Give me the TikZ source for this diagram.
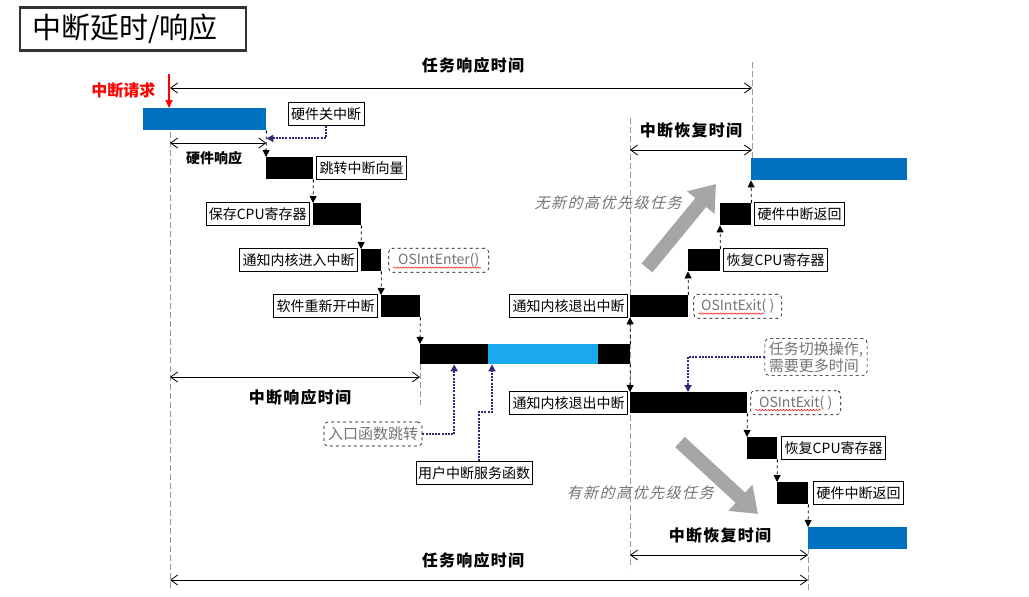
\documentclass[tikz,border=0pt]{standalone}
\usepackage{fontspec}
\setmainfont{Noto Sans CJK SC}
\newfontfamily\slantcjk[FakeSlant=0.25, LetterSpace=10]{Noto Sans CJK SC}
\newfontfamily\widecjk[LetterSpace=8]{Noto Sans CJK SC}
\usetikzlibrary{arrows.meta, positioning, decorations.pathmorphing}

\definecolor{barblue}{HTML}{0070C0}
\definecolor{isrblue}{HTML}{1AA9EC}
\definecolor{noteblue}{HTML}{2B2B7A}
\definecolor{guide}{HTML}{9A9A9A}
\definecolor{bigarrow}{HTML}{A6A6A6}

\begin{document}
\begin{tikzpicture}[x=1pt, y=-1pt,
  bar/.style={fill=black, minimum height=22pt, inner sep=0pt, anchor=north west},
  taskbar/.style={bar, fill=barblue},
  lbl/.style={draw, line width=0.6pt, fill=white, inner xsep=3pt, inner ysep=2pt,
    minimum height=23pt, font=\fontsize{14}{16}\selectfont},
  dbox/.style={draw, dashed, line width=0.6pt, rounded corners=4pt, text=black!55,
    inner xsep=4pt, minimum height=24pt, font=\fontsize{14}{16}\selectfont},
  flow/.style={dashed, line width=0.8pt, -{Triangle[length=7pt, width=7pt]}},
  note/.style={noteblue, line width=2pt, dash pattern=on 2pt off 1.2pt,
    -{Triangle[length=7pt, width=7pt]}},
  dim/.style={line width=0.8pt, {Straight Barb[length=7pt, width=10pt]}-{Straight Barb[length=7pt, width=10pt]}},
  guideline/.style={guide, line width=0.8pt, dash pattern=on 6pt off 3pt},
  dimlbl/.style={font=\fontsize{16}{18}\selectfont\widecjk\bfseries},
  fat/.style={bigarrow, line width=14pt, -{Triangle[length=24pt, width=34pt]}},
  wavy/.style={red, line width=0.5pt, decorate, decoration={snake, amplitude=0.7pt, segment length=3pt}}
]
\useasboundingbox (0,0) rectangle (1029,597);

% title
\node[draw=black!80, line width=2.5pt, text width=202pt, inner xsep=12pt, minimum height=43pt,
  align=left, font=\fontsize{29}{31}\selectfont] (title) at (133,29) {中断延时/响应};

% guide lines
\coordinate (g0) at (170,132);
\coordinate (g0b) at (170,590);
\coordinate (g1) at (420,364);
\coordinate (g1b) at (420,405);
\coordinate (g2) at (630,118);
\coordinate (g2b) at (630,568);
\coordinate (g3) at (752,62);
\coordinate (g3b) at (752,158);
\coordinate (g4) at (808,548);
\coordinate (g4b) at (808,592);
\draw[guideline] (g0) -- (g0b);
\draw[guideline] (g1) -- (g1b);
\draw[guideline] (g2) -- (g2b);
\draw[guideline] (g3) -- (g3b);
\draw[guideline] (g4) -- (g4b);

% interrupt request
\coordinate (req) at (169,74);
\node[red, font=\fontsize{16}{18}\selectfont\bfseries, anchor=east] (reqlbl) at (159,90) {中断请求};

% bars
\node[taskbar, minimum width=123pt] (b1) at (143,108) {};
\node[bar, minimum width=47pt] (b2) at (266,157) {};
\node[bar, minimum width=48pt] (b3) at (313,203) {};
\node[bar, minimum width=20pt] (b4) at (361,249) {};
\node[bar, minimum width=39pt] (b5) at (381,295) {};
\node[bar, minimum width=68pt, minimum height=20pt] (b6a) at (420,344) {};
\node[bar, fill=isrblue, minimum width=110pt, minimum height=20pt] (b6u) at (488,344) {};
\node[bar, minimum width=32pt, minimum height=20pt] (b6c) at (598,344) {};
\node[bar, minimum width=58pt] (b7) at (630,295) {};
\node[bar, minimum width=32pt] (b8) at (688,249) {};
\node[bar, minimum width=31pt] (b9) at (720,203) {};
\node[taskbar, minimum width=156pt] (b10) at (751,158) {};
\node[bar, minimum width=117pt, minimum height=21pt] (c1) at (630,392) {};
\node[bar, minimum width=30pt] (c2) at (747,437) {};
\node[bar, minimum width=31pt] (c3) at (777,482) {};
\node[taskbar, minimum width=99pt] (c4) at (808,527) {};

% labels
\node[lbl] (l1) at (326,114) {硬件关中断};
\node[lbl, right=3pt of b2] (l2) {跳转中断向量};
\node[lbl, left=3pt of b3] (l3) {保存CPU寄存器};
\node[lbl, left=3pt of b4] (l4) {通知内核进入中断};
\node[dbox, right=7pt of b4, minimum width=100pt] (e1) {OSIntEnter()};
\node[lbl, left=3pt of b5] (l5) {软件重新开中断};
\node[lbl, left=2pt of b7] (l7) {通知内核退出中断};
\node[dbox, right=5pt of b7, minimum width=88pt] (x1) {OSIntExit( )};
\node[lbl, right=3pt of b8] (l8) {恢复CPU寄存器};
\node[lbl, right=3pt of b9] (l9) {硬件中断返回};
\node[lbl, left=2pt of c1] (m1) {通知内核退出中断};
\node[dbox, right=3pt of c1, minimum width=90pt] (x2) {OSIntExit( )};
\node[lbl, right=4pt of c2] (m2) {恢复CPU寄存器};
\node[lbl, right=5pt of c3] (m3) {硬件中断返回};
\node[dbox, font=\fontsize{15}{17}\selectfont] (n1) at (373,434) {入口函数跳转};
\node[lbl, inner xsep=2pt] (n2) at (474,473) {用户中断服务函数};
\node[dbox, align=left, inner ysep=3pt, font=\fontsize{15}{17}\selectfont] (n3) at (816,357) {任务切换操作,\\需要更多时间};

% red squiggles
\draw[wavy] ([xshift=5pt, yshift=-3pt]e1.base west) -- ([xshift=-8pt, yshift=-3pt]e1.base east);
\draw[wavy] ([xshift=5pt, yshift=-3pt]x1.base west) -- ([xshift=-18pt, yshift=-3pt]x1.base east);
\draw[wavy] ([xshift=5pt, yshift=-3pt]x2.base west) -- ([xshift=-20pt, yshift=-3pt]x2.base east);

% flow
\draw[red, line width=1.5pt, -{Triangle[length=8pt, width=7pt]}] (req) -- ([xshift=26pt]b1.north west);
\draw[flow] (b1.south east) -- (b2.north west);
\draw[flow] (b2.south east) -- (b3.north west);
\draw[flow] (b3.south east) -- (b4.north west);
\draw[flow] (b4.south east) -- (b5.north west);
\draw[flow] (b5.south east) -- (b6a.north west);
\draw[flow] (b6c.north east) -- (b7.south west);
\draw[flow] (b7.north east) -- (b8.south west);
\draw[flow] (b8.north east) -- (b9.south west);
\draw[flow] (b9.north east) -- (b10.south west);
\draw[flow] (b6c.south east) -- (c1.north west);
\draw[flow] (c1.south east) -- (c2.north west);
\draw[flow] (c2.south east) -- (c3.north west);
\draw[flow] (c3.south east) -- (c4.north west);

% notes
\draw[note] (l1.south) |- ([yshift=-8pt]b1.south east);
\draw[note] (n1.east) -| (b6a.south);
\draw[note] ([xshift=5pt]n2.north) -- ++(0,-49) -| ([xshift=4pt]b6u.south west);
\draw[note] (n3.west) -| ([xshift=58pt]c1.north west);

% dimensions
\draw[dim] (g0 |- 0,88) -- (g3 |- 0,88);
\node[dimlbl] (t1) at (473,65) {任务响应时间};
\draw[dim] (g0 |- 0,143) -- (b1.south east |- 0,143);
\node[font=\fontsize{14}{16}\selectfont\bfseries] (t2) at (214,158) {硬件响应};
\draw[dim] (g0 |- 0,377) -- (g1 |- 0,377);
\node[dimlbl] (t3) at (300,397) {中断响应时间};
\draw[dim] (g2 |- 0,150) -- (g3 |- 0,150);
\node[dimlbl] (t4) at (691,130) {中断恢复时间};
\draw[dim] (g2 |- 0,555) -- (g4 |- 0,555);
\node[dimlbl] (t5) at (720,535) {中断恢复时间};
\draw[dim] (g0 |- 0,580) -- (g4 |- 0,580);
\node[dimlbl] (t6) at (473,560) {任务响应时间};

% big arrows
\draw[fat] (647,268) -- (716,184);
\node[text=black!55, font=\fontsize{15}{17}\selectfont\slantcjk] (s1) at (608,203) {无新的高优先级任务};
\draw[fat] (680,442) -- (758,514);
\node[text=black!55, font=\fontsize{15}{17}\selectfont\slantcjk] (s2) at (640,493) {有新的高优先级任务};
\end{tikzpicture}
\end{document}
